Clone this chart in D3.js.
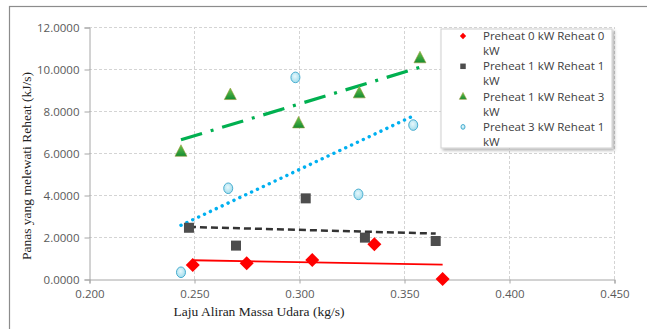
<!DOCTYPE html>
<html>
<head>
<meta charset="utf-8">
<script src="https://cdn.jsdelivr.net/npm/d3@7"></script>
<style>
  body { margin: 0; background: #ffffff; }
  svg { display: block; }
</style>
</head>
<body>
<div id="chart"></div>
<script>
// Data
const seriesNames = [
    "Preheat 0 kW Reheat 0 kW",
    "Preheat 1 kW Reheat 1 kW",
    "Preheat 1 kW Reheat 3 kW",
    "Preheat 3 kW Reheat 1 kW"
];
const x00 = [0.2494, 0.2751, 0.3063, 0.3359, 0.3684];
const y00 = [0.667, 0.750, 0.905, 1.650, 0.000];
const x11 = [0.2476, 0.2700, 0.3032, 0.3314, 0.3651];
const y11 = [2.44, 1.59, 3.84, 1.97, 1.81];
const x13 = [0.2438, 0.2673, 0.2998, 0.3287, 0.3576];
const y13 = [6.06, 8.76, 7.41, 8.84, 10.51];
const x31 = [0.2438, 0.2663, 0.2983, 0.3283, 0.3544];
const y31 = [0.32, 4.32, 9.60, 4.03, 7.33];
const xTicks = [0.200, 0.250, 0.300, 0.350, 0.400, 0.450];
const yTicks = [0, 2, 4, 6, 8, 10, 12];

const width = 647;
const height = 329;
const margin = { left: 89, right: 33, top: 27, bottom: 50 };

const svg = d3.select("#chart").append("svg")
    .attr("width", width)
    .attr("height", height);

// outer chart frame
svg.append("rect")
    .attr("x", 9.5).attr("y", 6.5)
    .attr("width", 660).attr("height", 340)
    .attr("fill", "none")
    .attr("stroke", "#8c8c8c")
    .attr("stroke-width", 1.2);

const x = d3.scaleLinear().domain([0.2, 0.45]).range([margin.left, width - margin.right]);
const y = d3.scaleLinear().domain([0, 12]).range([height - margin.bottom, margin.top]);

// gridlines
svg.append("g").selectAll("line")
    .data(yTicks.slice(1))
    .enter().append("line")
    .attr("x1", x(0.2)).attr("x2", x(0.45))
    .attr("y1", d => y(d) + 0.5).attr("y2", d => y(d) + 0.5)
    .attr("stroke", "#d4d4d4")
    .attr("stroke-dasharray", "3,2");

svg.append("g").selectAll("line")
    .data(xTicks.slice(1))
    .enter().append("line")
    .attr("x1", d => x(d) + 0.5).attr("x2", d => x(d) + 0.5)
    .attr("y1", y(0)).attr("y2", y(12))
    .attr("stroke", "#d4d4d4")
    .attr("stroke-dasharray", "3,2");

// axes
const xAxis = svg.append("g")
    .attr("transform", `translate(0.5,${y(0) + 0.5})`)
    .call(d3.axisBottom(x).tickValues(xTicks).tickFormat(d3.format(".3f")).tickSize(4).tickPadding(6));

const yAxis = svg.append("g")
    .attr("transform", `translate(${x(0.2) + 0.5},0.5)`)
    .call(d3.axisLeft(y).tickValues(yTicks).tickFormat(d3.format(".4f")).tickSize(5).tickPadding(5));

[xAxis, yAxis].forEach(a => {
    a.select(".domain").attr("stroke", "#a6a6a6");
    a.selectAll(".tick line").attr("stroke", "#a6a6a6");
    a.selectAll("text")
        .attr("fill", "#595959")
        .style("font-family", "'Open Sans', 'Noto Sans', sans-serif")
        .style("font-size", "11.5px");
});

// axis titles
svg.append("text")
    .attr("x", 259).attr("y", 316)
    .attr("text-anchor", "middle")
    .style("font-family", "'Liberation Serif', serif")
    .style("font-size", "13.5px")
    .attr("fill", "#222")
    .text("Laju Aliran Massa Udara (kg/s)");

svg.append("text")
    .attr("transform", "translate(31,166) rotate(-90)")
    .attr("text-anchor", "middle")
    .style("font-family", "'Liberation Serif', serif")
    .style("font-size", "13.5px")
    .attr("fill", "#222")
    .text("Panas yang melewati Reheat (kJ/s)");

// linear trendline from the points
function trend(xs, ys) {
    const mx = d3.mean(xs), my = d3.mean(ys);
    const b = d3.sum(xs, (v, i) => (v - mx) * (ys[i] - my)) / d3.sum(xs, v => (v - mx) * (v - mx));
    const a = my - b * mx;
    const ext = d3.extent(xs);
    return ext.map(v => [v, a + b * v]);
}

const line = d3.line().x(d => x(d[0])).y(d => y(d[1]));

const series = [
    { xs: x00, ys: y00, color: "#ff0000", width: 1.8, dash: null, cap: "butt" },
    { xs: x11, ys: y11, color: "#333333", width: 2.5, dash: "7,4", cap: "butt" },
    { xs: x13, ys: y13, color: "#00b050", width: 3.2, dash: "22,9,3,9", cap: "butt" },
    { xs: x31, ys: y31, color: "#00b0f0", width: 3.4, dash: "0.1,6.4", cap: "round" }
];

series.forEach(s => {
    svg.append("path")
        .attr("d", line(trend(s.xs, s.ys)))
        .attr("fill", "none")
        .attr("stroke", s.color)
        .attr("stroke-width", s.width)
        .attr("stroke-dasharray", s.dash)
        .attr("stroke-linecap", s.cap);
});

// markers
const defs = svg.append("defs");
const gTri = defs.append("linearGradient").attr("id", "triGrad").attr("x1", 0).attr("y1", 0).attr("x2", 0).attr("y2", 1);
gTri.append("stop").attr("offset", "0%").attr("stop-color", "#6cc24a");
gTri.append("stop").attr("offset", "100%").attr("stop-color", "#138c32");
const gCir = defs.append("radialGradient").attr("id", "cirGrad").attr("cx", "45%").attr("cy", "40%").attr("r", "60%");
gCir.append("stop").attr("offset", "0%").attr("stop-color", "#e8f8fc");
gCir.append("stop").attr("offset", "100%").attr("stop-color", "#9fdcec");

function drawMarker(g, kind, cx, cy, scale) {
    const k = scale || 1;
    if (kind === 0) {
        g.append("path")
            .attr("d", `M${cx},${cy - 7 * k}L${cx + 7 * k},${cy}L${cx},${cy + 7 * k}L${cx - 7 * k},${cy}Z`)
            .attr("fill", "#ff0000");
    } else if (kind === 1) {
        g.append("rect")
            .attr("x", cx - 5 * k).attr("y", cy - 5 * k)
            .attr("width", 10 * k).attr("height", 10 * k)
            .attr("fill", "#4d4d4d");
    } else if (kind === 2) {
        g.append("path")
            .attr("d", `M${cx},${cy - 7 * k}L${cx + 6 * k},${cy + 4.5 * k}L${cx - 6 * k},${cy + 4.5 * k}Z`)
            .attr("fill", "url(#triGrad)")
            .attr("stroke", "#9a9a3a")
            .attr("stroke-width", 0.6);
    } else {
        g.append("ellipse")
            .attr("cx", cx).attr("cy", cy)
            .attr("rx", 4.5 * k).attr("ry", 5.3 * k)
            .attr("fill", "url(#cirGrad)")
            .attr("stroke", "#4aaed0")
            .attr("stroke-width", 1);
    }
}

const markerLayer = svg.append("g");
series.forEach((s, i) => {
    s.xs.forEach((v, j) => drawMarker(markerLayer, i, x(v), y(s.ys[j])));
});

// legend
const legend = svg.append("g").attr("transform", "translate(441,29)");
defs.append("filter").attr("id", "shadow")
    .append("feDropShadow").attr("dx", 2).attr("dy", 2).attr("stdDeviation", 1.5)
    .attr("flood-color", "#000").attr("flood-opacity", 0.3);
legend.append("rect")
    .attr("width", 171).attr("height", 119)
    .attr("fill", "#fff")
    .attr("stroke", "#d0d0d0")
    .attr("filter", "url(#shadow)");

const legendScale = [0.45, 0.55, 0.6, 0.45];
seriesNames.forEach((name, i) => {
    const row = 7 + i * 30.3;
    drawMarker(legend, i, 22, row, legendScale[i]);
    const words = name.split(" ");
    const t = legend.append("text")
        .attr("x", 42).attr("y", row + 4)
        .style("font-family", "'Open Sans', 'Noto Sans', sans-serif")
        .style("font-size", "11.5px")
        .attr("fill", "#404040");
    t.append("tspan").attr("x", 42).text(words.slice(0, -1).join(" "));
    t.append("tspan").attr("x", 42).attr("dy", 15).text(words[words.length - 1]);
});
</script>
</body>
</html>
